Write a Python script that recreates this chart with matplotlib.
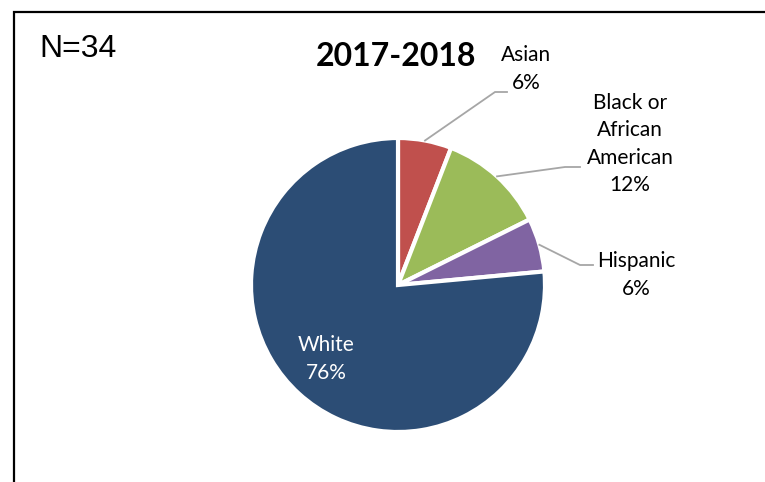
import numpy as np
import matplotlib
matplotlib.use("Agg")
import matplotlib.pyplot as plt

# data
categories = ["Asian", "Black or\nAfrican\nAmerican", "Hispanic", "White"]
counts = [2, 4, 2, 26]
colors = ["#C0504D", "#9BBB59", "#8064A2", "#2C4D75"]
title = "2017-2018"
n_label = "N=34"

W, H = 765, 482
fig = plt.figure(figsize=(W / 100, H / 100), dpi=100)
ax = fig.add_axes([0, 0, 1, 1])

cx, cy, r = 398, H - 285, 147
wedges, _ = ax.pie(counts, colors=colors, startangle=90, counterclock=False,
                   center=(cx, cy), radius=r, frame=True,
                   wedgeprops=dict(edgecolor="white", linewidth=3))
ax.set_xlim(0, W)
ax.set_ylim(0, H)
ax.set_aspect("equal")
ax.axis("off")

total = sum(counts)
pcts = [f"{c / total * 100:.0f}%" for c in counts]

# label layout: (text x, text y, elbow x, elbow y, end x) in image pixels
layout = [
    (526, 69, 495, 92, 507),
    (630, 144, 565, 167, 580),
    (636, 275, 580, 265, 593),
]
lab_font = dict(family="Lato", fontsize=15, linespacing=1.45)
for i, (tx, ty, ex, ey, endx) in enumerate(layout):
    w = wedges[i]
    mid = np.deg2rad((w.theta1 + w.theta2) / 2)
    px, py = cx + r * np.cos(mid), cy + r * np.sin(mid)
    ax.plot([px, ex, endx], [py, H - ey, H - ey], color="#A6A6A6", lw=1.3,
            solid_joinstyle="miter")
    ax.text(tx, H - ty, f"{categories[i]}\n{pcts[i]}", ha="center", va="center",
            color="black", **lab_font)

ax.text(326, H - 359, f"{categories[3]}\n{pcts[3]}", ha="center", va="center",
        color="white", **lab_font)

ax.text(396, H - 56, title, ha="center", va="center", family="Lato",
        fontweight="bold", fontsize=23)
ax.text(39, H - 49, n_label, ha="left", va="center", family="Liberation Sans",
        fontsize=23)

# chart border (only left and top visible)
ax.plot([14, 14, W + 5], [-5, H - 12, H - 12], color="black", lw=1.6,
        solid_joinstyle="miter", clip_on=False)

fig.savefig("out.png", dpi=100)
